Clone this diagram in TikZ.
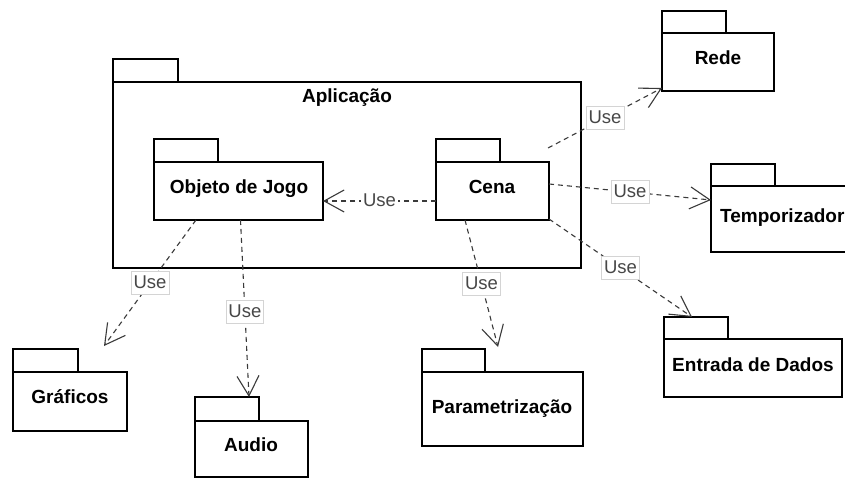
\documentclass[tikz,border=0pt]{standalone}
\usepackage{fontspec}
\setmainfont{Liberation Sans}
\usetikzlibrary{arrows.meta,calc}
\definecolor{edge}{HTML}{3A3A3A}
\definecolor{usetext}{HTML}{474747}
\definecolor{usebox}{HTML}{D4D4D4}
\tikzset{
  pkgbody/.style={draw=black, line width=1.3pt, fill=white, inner sep=0pt, outer sep=0pt, anchor=north west},
  pkgtab/.style={draw=black, line width=1.3pt, fill=white},
  pkgname/.style={font=\fontsize{19}{22}\selectfont\bfseries, inner sep=0pt, text height=13.6pt, text depth=0pt},
  usedep/.style={draw=edge, line width=1.1pt, dash pattern=on 5pt off 4pt, line join=miter,
    -{Straight Barb[length=20pt,width=22pt]}},
  uselabel/.style={font=\fontsize{18.5}{21}\selectfont, text=usetext, fill=white, draw=usebox,
    line width=0.8pt, inner xsep=2.5pt, inner ysep=0pt, text height=17pt, text depth=6pt, solid},
  uselabelplain/.style={uselabel, draw=none},
}
\begin{document}
\begin{tikzpicture}[x=1pt, y=-1pt]
  \useasboundingbox (0,0) rectangle (845,478);
  \fill[white] (0,0) rectangle (845,478);
  \clip (0,0) rectangle (845,478);

  % Aplicação package with its two inner packages
  \node[pkgbody, minimum width=468pt, minimum height=186pt] (app) at (113,82) {};
  \draw[pkgtab] (app.north west) rectangle ++(65,-23);
  \node[pkgname] (app-name) at (347,96) {Aplicação};

  \node[pkgbody, minimum width=169pt, minimum height=58pt] (obj) at (154,162) {};
  \draw[pkgtab] (obj.north west) rectangle ++(64,-23);
  \node[pkgname] (obj-name) at (239,187) {Objeto de Jogo};

  \node[pkgbody, minimum width=113pt, minimum height=58pt] (cena) at (436,162) {};
  \draw[pkgtab] (cena.north west) rectangle ++(64,-23);
  \node[pkgname] (cena-name) at (492,187) {Cena};

  % Outer packages
  \node[pkgbody, minimum width=112pt, minimum height=58pt] (rede) at (662,33) {};
  \draw[pkgtab] (rede.north west) rectangle ++(64,-22);
  \node[pkgname] (rede-name) at (718,58) {Rede};

  \node[pkgbody, minimum width=150pt, minimum height=66pt] (temp) at (711,186) {};
  \draw[pkgtab] (temp.north west) rectangle ++(64,-22);
  \node[pkgname, anchor=west] (temp-name) at (720,216) {Temporizador};

  \node[pkgbody, minimum width=178pt, minimum height=58pt] (entrada) at (664,339) {};
  \draw[pkgtab] (entrada.north west) rectangle ++(64,-22);
  \node[pkgname] (entrada-name) at (753,365) {Entrada de Dados};

  \node[pkgbody, minimum width=114pt, minimum height=59pt] (graf) at (13,372) {};
  \draw[pkgtab] (graf.north west) rectangle ++(65,-23);
  \node[pkgname] (graf-name) at (70,397) {Gráficos};

  \node[pkgbody, minimum width=113pt, minimum height=56pt] (audio) at (195,421) {};
  \draw[pkgtab] (audio.north west) rectangle ++(64,-24);
  \node[pkgname] (audio-name) at (251,445) {Audio};

  \node[pkgbody, minimum width=161pt, minimum height=74pt] (param) at (422,372) {};
  \draw[pkgtab] (param.north west) rectangle ++(63,-23);
  \node[pkgname] (param-name) at (502,407) {Parametrização};

  % «use» dependencies
  \draw[usedep] ($(cena.west)+(0,10)$) -- node[uselabelplain, pos=0.5] (u1) {Use} ($(obj.east)+(0,10)$);
  \draw[usedep] ($(cena.north east)+(-1,-14)$) -- node[uselabel, pos=0.5] (u2) {Use} ($(rede.south west)+(0,-3)$);
  \draw[usedep] ($(cena.east)+(0,-7)$) -- node[uselabel, pos=0.5] (u3) {Use} ($(temp.west)+(0,-19)$);
  \draw[usedep] ($(cena.south east)+(0,-1)$) -- node[uselabel, pos=0.5] (u4) {Use} ($(entrada.north west)+(28,-22)$);
  \draw[usedep] ($(obj.south west)+(42,0)$) -- node[uselabel, pos=0.5] (u5) {Use} ($(graf.north west)+(91,-26)$);
  \draw[usedep] ($(obj.south)+(2,0)$) -- node[uselabel, pos=0.52] (u6) {Use} ($(audio.north west)+(54,-24)$);
  \draw[usedep] ($(cena.south west)+(29,0)$) -- node[uselabel, pos=0.5] (u7) {Use} ($(param.north west)+(76,-25)$);
\end{tikzpicture}
\end{document}
